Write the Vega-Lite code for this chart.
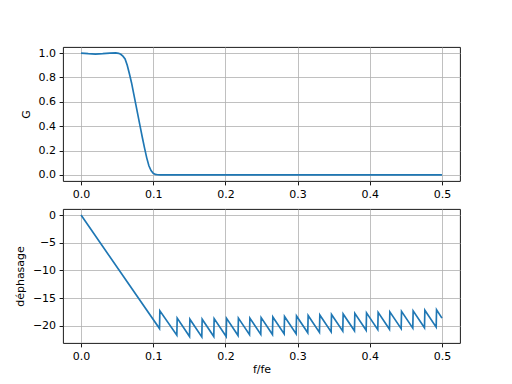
{
  "$schema": "https://vega.github.io/schema/vega-lite/v6.json",
  "padding": {"left": 13, "top": 46, "right": 10, "bottom": 10},
  "background": "white",
  "bounds": "flush",
  "spacing": 28,
  "config": {
    "view": {"stroke": "black", "strokeWidth": 0.9},
    "axis": {
      "grid": true, "gridColor": "#b0b0b0", "gridWidth": 0.8,
      "domain": false, "tickColor": "black", "tickSize": 3.9, "tickWidth": 0.9,
      "labelFont": "DejaVu Sans", "labelFontSize": 11, "labelColor": "black", "labelPadding": 3.5,
      "titleFont": "DejaVu Sans", "titleFontSize": 11, "titleFontWeight": "normal", "titleColor": "black"
    },
    "axisY": {"titlePadding": 7},
    "axisX": {"titlePadding": 2}
  },
  "datasets": {
    "gain": [
      {"f": 0, "G": 1.0}, {"f": 0.01, "G": 0.995}, {"f": 0.02, "G": 0.992}, {"f": 0.03, "G": 0.995},
      {"f": 0.04, "G": 1.0}, {"f": 0.048, "G": 1.002}, {"f": 0.052, "G": 0.998}, {"f": 0.055, "G": 0.99},
      {"f": 0.058, "G": 0.975}, {"f": 0.061, "G": 0.952}, {"f": 0.064, "G": 0.9}, {"f": 0.067, "G": 0.83},
      {"f": 0.07, "G": 0.755}, {"f": 0.073, "G": 0.665}, {"f": 0.076, "G": 0.575}, {"f": 0.079, "G": 0.485},
      {"f": 0.082, "G": 0.395}, {"f": 0.085, "G": 0.305}, {"f": 0.088, "G": 0.22}, {"f": 0.091, "G": 0.14},
      {"f": 0.094, "G": 0.075}, {"f": 0.097, "G": 0.035}, {"f": 0.1, "G": 0.013}, {"f": 0.103, "G": 0.004},
      {"f": 0.106, "G": 0.001}, {"f": 0.11, "G": 0.0}, {"f": 0.15, "G": 0.0}, {"f": 0.2, "G": 0.0},
      {"f": 0.25, "G": 0.0}, {"f": 0.3, "G": 0.0}, {"f": 0.35, "G": 0.0}, {"f": 0.4, "G": 0.0},
      {"f": 0.45, "G": 0.0}, {"f": 0.5, "G": 0.0}
    ],
    "phase": [
      {"f": 0, "p": 0}, {"f": 0.1087, "p": -20.49}, {"f": 0.1092, "p": -17.3},
      {"f": 0.1327, "p": -21.7}, {"f": 0.1332, "p": -18.6},
      {"f": 0.1503, "p": -21.92}, {"f": 0.1508, "p": -18.8},
      {"f": 0.1673, "p": -22.0}, {"f": 0.1678, "p": -18.8},
      {"f": 0.1839, "p": -21.93}, {"f": 0.1844, "p": -18.7},
      {"f": 0.2011, "p": -21.94}, {"f": 0.2016, "p": -18.65},
      {"f": 0.2175, "p": -21.74}, {"f": 0.218, "p": -18.6},
      {"f": 0.2334, "p": -21.6}, {"f": 0.2339, "p": -18.6},
      {"f": 0.249, "p": -21.54}, {"f": 0.2495, "p": -18.51},
      {"f": 0.2652, "p": -21.56}, {"f": 0.2657, "p": -18.41},
      {"f": 0.2814, "p": -21.46}, {"f": 0.2819, "p": -18.32},
      {"f": 0.298, "p": -21.45}, {"f": 0.2985, "p": -18.22},
      {"f": 0.3141, "p": -21.25}, {"f": 0.3146, "p": -18.13},
      {"f": 0.3303, "p": -21.18}, {"f": 0.3308, "p": -18.04},
      {"f": 0.3465, "p": -21.09}, {"f": 0.347, "p": -17.94},
      {"f": 0.3626, "p": -20.97}, {"f": 0.3631, "p": -17.85},
      {"f": 0.3788, "p": -20.9}, {"f": 0.3793, "p": -17.75},
      {"f": 0.395, "p": -20.8}, {"f": 0.3955, "p": -17.66},
      {"f": 0.4111, "p": -20.69}, {"f": 0.4116, "p": -17.57},
      {"f": 0.4273, "p": -20.62}, {"f": 0.4278, "p": -17.47},
      {"f": 0.4435, "p": -20.52}, {"f": 0.444, "p": -17.38},
      {"f": 0.4596, "p": -20.41}, {"f": 0.4601, "p": -17.29},
      {"f": 0.4758, "p": -20.34}, {"f": 0.4763, "p": -17.19},
      {"f": 0.492, "p": -20.24}, {"f": 0.4925, "p": -17.1},
      {"f": 0.5, "p": -18.61}
    ]
  },
  "vconcat": [
    {
      "width": 397, "height": 134,
      "data": {"name": "gain"},
      "mark": {"type": "line", "color": "#1f77b4", "strokeWidth": 1.67, "clip": true},
      "encoding": {
        "x": {"field": "f", "type": "quantitative", "scale": {"domain": [-0.025, 0.525], "nice": false, "zero": false},
              "axis": {"title": null, "values": [0, 0.1, 0.2, 0.3, 0.4, 0.5], "format": ".1f"}},
        "y": {"field": "G", "type": "quantitative", "scale": {"domain": [-0.05, 1.05], "nice": false, "zero": false},
              "axis": {"title": "G", "values": [0, 0.2, 0.4, 0.6, 0.8, 1.0], "format": ".1f"}}
      }
    },
    {
      "width": 397, "height": 134,
      "data": {"name": "phase"},
      "mark": {"type": "line", "color": "#1f77b4", "strokeWidth": 1.67, "clip": true},
      "encoding": {
        "x": {"field": "f", "type": "quantitative", "scale": {"domain": [-0.025, 0.525], "nice": false, "zero": false},
              "axis": {"title": "f/fe", "values": [0, 0.1, 0.2, 0.3, 0.4, 0.5], "format": ".1f"}},
        "y": {"field": "p", "type": "quantitative", "scale": {"domain": [-23.1, 1.1], "nice": false, "zero": false},
              "axis": {"title": "déphasage", "values": [0, -5, -10, -15, -20], "format": "d"}}
      }
    }
  ]
}
